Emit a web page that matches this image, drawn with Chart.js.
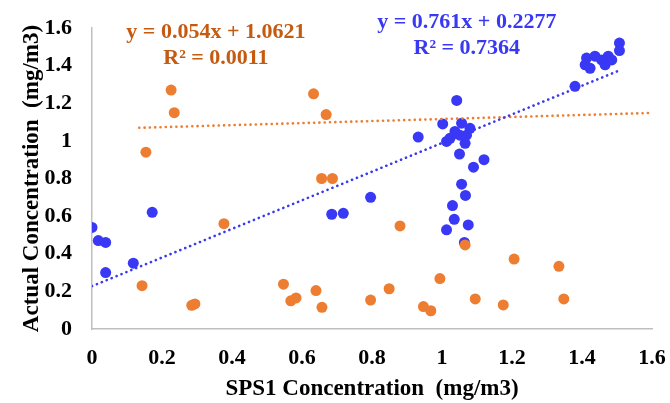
<!DOCTYPE html>
<html>
<head>
<meta charset="utf-8">
<script src="https://cdn.jsdelivr.net/npm/chart.js@4"></script>
<style>
  html, body { margin: 0; padding: 0; background: #fff; }
  #wrap { width: 670px; height: 403px; }
</style>
</head>
<body>
<div id="wrap"><canvas id="chart"></canvas></div>
<script>
// SPS1 readings (x) against actual readings (y), two series
const blueX = [0.00, 0.018, 0.039, 0.039, 0.118, 0.172, 0.685, 0.718, 0.796, 0.932,
  1.002, 1.042, 1.023, 1.056, 1.08, 1.037, 1.066, 1.013, 1.051, 1.07,
  1.05, 1.09, 1.12, 1.056, 1.067, 1.03, 1.035, 1.013, 1.075, 1.064,
  1.38, 1.409, 1.413, 1.423, 1.437, 1.456, 1.466, 1.475, 1.485, 1.507, 1.507];
const blueY = [0.54, 0.47, 0.46, 0.30, 0.35, 0.62, 0.61, 0.615, 0.70, 1.02,
  1.09, 1.215, 1.014, 1.094, 1.067, 1.05, 0.987, 0.997, 1.03, 1.03,
  0.93, 0.86, 0.90, 0.77, 0.71, 0.656, 0.583, 0.527, 0.553, 0.46,
  1.29, 1.404, 1.44, 1.386, 1.45, 1.43, 1.404, 1.45, 1.43, 1.52, 1.48];

const orangeX = [0.143, 0.154, 0.226, 0.235, 0.285, 0.294, 0.377, 0.547, 0.568, 0.583,
  0.633, 0.64, 0.656, 0.657, 0.669, 0.687, 0.796, 0.849, 0.88, 0.947,
  0.968, 0.994, 1.066, 1.095, 1.175, 1.206, 1.334, 1.348];
const orangeY = [0.23, 0.94, 1.27, 1.15, 0.126, 0.133, 0.56, 0.238, 0.15, 0.165,
  1.25, 0.204, 0.80, 0.115, 1.14, 0.80, 0.154, 0.214, 0.548, 0.119,
  0.097, 0.268, 0.447, 0.16, 0.128, 0.372, 0.333, 0.16];

// trendline equations as printed on the chart
const blueSlope = 0.761, blueIntercept = 0.2277;
const orangeSlope = 0.054, orangeIntercept = 1.0621;
const blueTrendX = [0, 1.507];
const orangeTrendX = [0.135, 1.6];

const blueLabel = ['y = 0.761x + 0.2277', 'R² = 0.7364'];
const orangeLabel = ['y = 0.054x + 1.0621', 'R² = 0.0011'];

const xTicks = [0, 0.2, 0.4, 0.6, 0.8, 1, 1.2, 1.4, 1.6];
const yTicks = [0, 0.2, 0.4, 0.6, 0.8, 1, 1.2, 1.4, 1.6];

const BLUE = '#3838f5';
const ORANGE = '#ed7d31';
const SERIF = '"Liberation Serif", "Times New Roman", serif';

function pts(xs, ys) {
  return xs.map((x, i) => ({ x: x, y: ys[i] }));
}
function trend(xs, m, b) {
  return xs.map(x => ({ x: x, y: m * x + b }));
}
// excel style: 1 not 1.0
const fmt = v => String(Math.round(v * 10) / 10);

// draws the regression equations, anchored in data units
const equationPlugin = {
  id: 'equations',
  afterDatasetsDraw(chart) {
    const ctx = chart.ctx;
    const xs = chart.scales.x, ys = chart.scales.y;
    const draw = (lines, cx, cy, color) => {
      ctx.save();
      ctx.font = 'bold 22px ' + SERIF;
      ctx.fillStyle = color;
      ctx.textAlign = 'center';
      ctx.textBaseline = 'middle';
      lines.forEach((t, i) => {
        ctx.fillText(t, xs.getPixelForValue(cx), ys.getPixelForValue(cy) + i * 26);
      });
      ctx.restore();
    };
    draw(orangeLabel, 0.354, 1.575, '#c55a11');
    draw(blueLabel, 1.071, 1.63, BLUE);
  }
};

const trendStyle = {
  showLine: true,
  pointRadius: 0,
  borderWidth: 2.6,
  borderDash: [0.1, 5.2],
  borderCapStyle: 'round',
  fill: false
};

new Chart(document.getElementById('chart'), {
  type: 'scatter',
  data: {
    datasets: [
      Object.assign({ data: trend(blueTrendX, blueSlope, blueIntercept), borderColor: BLUE }, trendStyle),
      Object.assign({ data: trend(orangeTrendX, orangeSlope, orangeIntercept), borderColor: ORANGE }, trendStyle),
      { data: pts(orangeX, orangeY), backgroundColor: ORANGE, borderColor: ORANGE,
        pointRadius: 5.5, borderWidth: 0 },
      { data: pts(blueX, blueY), backgroundColor: BLUE, borderColor: BLUE,
        pointRadius: 5.5, borderWidth: 0 }
    ]
  },
  options: {
    responsive: true,
    maintainAspectRatio: false,
    animation: false,
    layout: { padding: { top: 28, right: 18, left: 0, bottom: 0 } },
    plugins: {
      legend: { display: false },
      tooltip: { enabled: false }
    },
    scales: {
      x: {
        type: 'linear',
        min: 0,
        max: 1.6,
        afterFit(scale) {
          scale.height = 74;
          scale.paddingLeft = 0;
          scale.paddingRight = 0;
        },
        afterBuildTicks(scale) { scale.ticks = xTicks.map(v => ({ value: v })); },
        grid: { display: false, drawTicks: false },
        border: { display: true, color: '#bfbfbf', width: 1.5 },
        ticks: {
          color: '#000',
          padding: 16,
          maxRotation: 0,
          callback: fmt,
          font: { family: SERIF, size: 22, weight: 'bold' }
        },
        title: {
          display: true,
          text: 'SPS1 Concentration  (mg/m3)',
          color: '#000',
          padding: { top: 0, bottom: 0 },
          font: { family: SERIF, size: 23, weight: 'bold' }
        }
      },
      y: {
        type: 'linear',
        min: 0,
        max: 1.6,
        afterFit(scale) {
          scale.width = 92;
          scale.paddingTop = 0;
          scale.paddingBottom = 0;
        },
        afterBuildTicks(scale) { scale.ticks = yTicks.map(v => ({ value: v })); },
        grid: { display: false, drawTicks: false },
        border: { display: true, color: '#bfbfbf', width: 1.5 },
        ticks: {
          color: '#000',
          padding: 20,
          callback: fmt,
          font: { family: SERIF, size: 22, weight: 'bold' }
        },
        title: {
          display: true,
          text: 'Actual Concentration  (mg/m3)',
          color: '#000',
          padding: { top: 18, bottom: 0 },
          font: { family: SERIF, size: 23, weight: 'bold' }
        }
      }
    }
  },
  plugins: [equationPlugin]
});
</script>
</body>
</html>
